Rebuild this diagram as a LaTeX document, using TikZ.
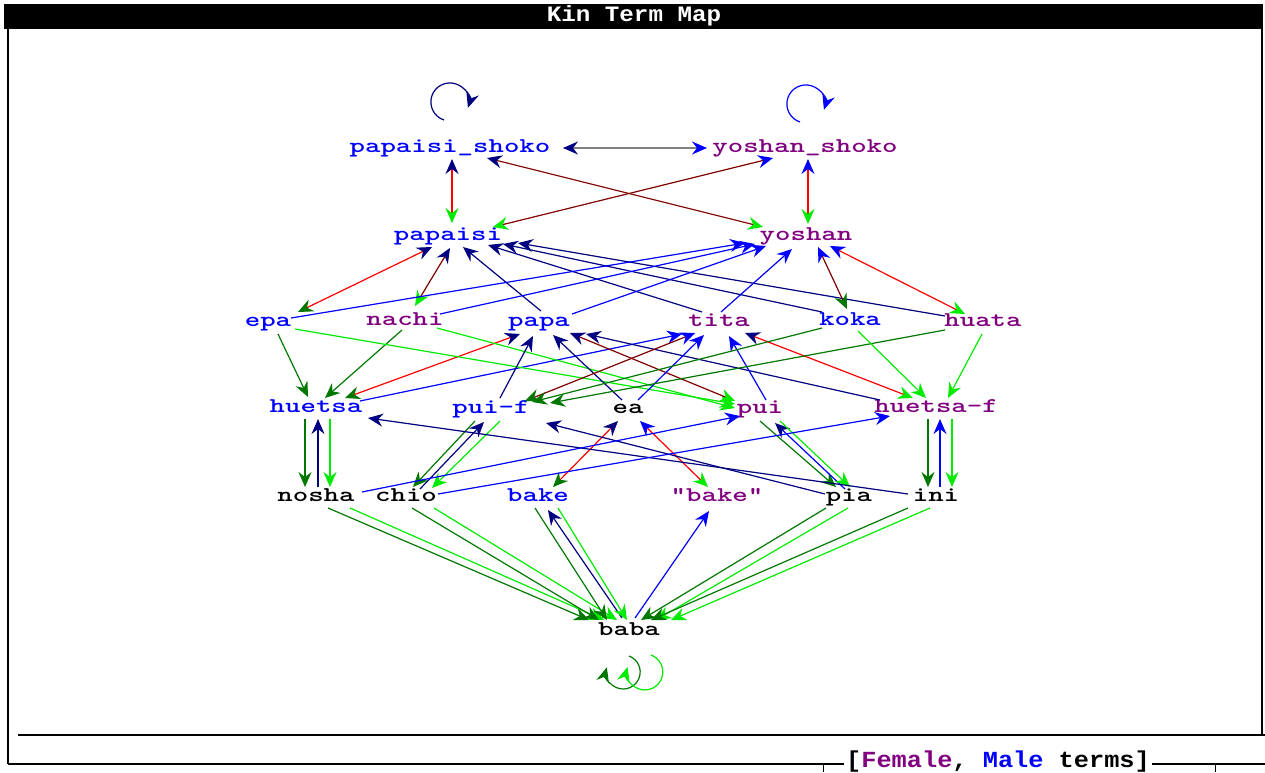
\documentclass[tikz,border=0pt]{standalone}
\usepackage{fontspec}
\newfontfamily\kinfont[FakeStretch=1.4]{lmmonolt10-bold.otf}
\newfontfamily\titlefont[FakeStretch=1.1]{Liberation Mono}
\usetikzlibrary{arrows.meta}
\definecolor{kblue}{RGB}{0,0,255}
\definecolor{kpurple}{RGB}{128,0,128}
\definecolor{knavy}{RGB}{0,0,128}
\definecolor{kmaroon}{RGB}{128,0,0}
\definecolor{kgreen}{RGB}{0,235,0}
\definecolor{kdkgreen}{RGB}{0,120,0}
\tikzset{
  kin/.style={font=\kinfont\fontsize{10.5}{11}\selectfont, inner sep=1.5pt,
    text height=6pt, text depth=1.5pt},
  male/.style={kin, text=kblue},
  female/.style={kin, text=kpurple},
  neutral/.style={kin, text=black},
  link/.style={line width=0.6pt},
  onehead/.style={arrows={-Stealth[length=7.5pt,width=6.5pt,inset=2.5pt,color=#1]}},
  twoheads/.style 2 args={arrows={Stealth[length=7.5pt,width=6.5pt,inset=2.5pt,color=#1]-Stealth[length=7.5pt,width=6.5pt,inset=2.5pt,color=#2]}}
}
\begin{document}
\begin{tikzpicture}[x=0.5pt, y=-0.5pt]
	\useasboundingbox (0,0) rectangle (1265,772);

	% window frame
	\fill[black] (4,4) rectangle (1263,29);
	\node[font=\titlefont\bfseries\fontsize{11}{12}\selectfont, text=white] (title) at (634,16) {Kin Term Map};
	\draw[line width=0.8pt] (8,29) -- (8,764);
	\draw[line width=0.8pt] (1262,29) -- (1262,735);
	\draw[line width=1.4pt] (18,735) -- (1265,735);
	\node[font=\titlefont\bfseries\fontsize{11.5}{12}\selectfont, inner sep=1pt] (legend) at (998,762)
		{[{\color{kpurple}Female}, {\color{kblue}Male} terms]};
	\draw[line width=0.8pt] (8,764) -- (legend.west |- 0,764);
	\draw[line width=0.8pt] (legend.east |- 0,764) -- (1265,764);
	\draw (823,764) -- (823,772);
	\draw (1215,764) -- (1215,772);

	% kin terms
	\node[male] (ps) at (450,148) {papaisi\_shoko};
	\node[female] (ys) at (805,148) {yoshan\_shoko};
	\node[male] (pap) at (448,236) {papaisi};
	\node[female] (yos) at (806,236) {yoshan};
	\node[male] (epa) at (268,322) {epa};
	\node[female] (nachi) at (405,321) {nachi};
	\node[male] (papa) at (539,322) {papa};
	\node[female] (tita) at (719,322) {tita};
	\node[male] (koka) at (850,321) {koka};
	\node[female] (huata) at (983,322) {huata};
	\node[male] (huetsa) at (316,408) {huetsa};
	\node[male] (puif) at (491,409) {pui-f};
	\node[neutral] (ea) at (628,409) {ea};
	\node[female] (pui) at (760,409) {pui};
	\node[female] (huetsaf) at (936,408) {huetsa-f};
	\node[neutral] (nosha) at (316,497) {nosha};
	\node[neutral] (chio) at (406,497) {chio};
	\node[male] (bake) at (538,497) {bake};
	\node[female] (bakef) at (717,497) {"bake"};
	\node[neutral] (pia) at (849,497) {pia};
	\node[neutral] (ini) at (936,497) {ini};
	\node[neutral] (baba) at (629,631) {baba};

	% self links
	\draw[link, knavy, onehead=knavy] ([shift={(-6,-28)}]ps.center) arc[start angle=108, end angle=378, radius=19];
	\draw[link, kblue, onehead=kblue] ([shift={(-5,-26)}]ys.center) arc[start angle=108, end angle=378, radius=19];
	\draw[link, kdkgreen, onehead=kdkgreen] ([shift={(0,25)}]baba.center) arc[start angle=-70, end angle=196, radius=17];
	\draw[link, kgreen, onehead=kgreen] ([shift={(22,24)}]baba.center) arc[start angle=-70, end angle=196, radius=18];

	% top rows
	\draw[link, gray, twoheads={knavy}{kblue}] ([shift={(113,0)}]ps.center) -- ([shift={(-98,0)}]ys.center);
	\draw[link, red, twoheads={knavy}{kgreen}] ([shift={(2,11)}]ps.center) -- ([shift={(4,-13)}]pap.center);
	\draw[link, red, twoheads={kblue}{kgreen}] ([shift={(3,11)}]ys.center) -- ([shift={(2,-12)}]yos.center);
	\draw[link, kmaroon, twoheads={kblue}{kgreen}] ([shift={(-32,10)}]ys.center) -- ([shift={(45,-9)}]pap.center);
	\draw[link, kmaroon, twoheads={knavy}{kgreen}] ([shift={(37,10)}]ps.center) -- ([shift={(-43,-9)}]yos.center);

	% papaisi and yoshan to their children
	\draw[link, red, twoheads={knavy}{kdkgreen}] ([shift={(-16,11)}]pap.center) -- ([shift={(30,-10)}]epa.center);
	\draw[link, kmaroon, twoheads={knavy}{kgreen}] ([shift={(2,12)}]pap.center) -- ([shift={(10,-15)}]nachi.center);
	\draw[link, knavy, onehead=knavy] ([shift={(2,-11)}]papa.center) -- ([shift={(15,11)}]pap.center);
	\draw[link, knavy, onehead=knavy] ([shift={(-17,-10)}]tita.center) -- ([shift={(40,9)}]pap.center);
	\draw[link, knavy, onehead=knavy] ([shift={(-28,-9)}]koka.center) -- ([shift={(55,8)}]pap.center);
	\draw[link, knavy, onehead=knavy] ([shift={(-38,-6)}]huata.center) -- ([shift={(70,7)}]pap.center);
	\draw[link, kblue, onehead=kblue] ([shift={(23,-4)}]epa.center) -- ([shift={(-61,7)}]yos.center);
	\draw[link, kblue, onehead=kblue] ([shift={(35,-7)}]nachi.center) -- ([shift={(-51,8)}]yos.center);
	\draw[link, kblue, onehead=kblue] ([shift={(33,-8)}]papa.center) -- ([shift={(-40,10)}]yos.center);
	\draw[link, kblue, onehead=kblue] ([shift={(2,-10)}]tita.center) -- ([shift={(-14,13)}]yos.center);
	\draw[link, kmaroon, twoheads={kblue}{kdkgreen}] ([shift={(12,11)}]yos.center) -- ([shift={(-3,-12)}]koka.center);
	\draw[link, red, twoheads={kblue}{kgreen}] ([shift={(24,10)}]yos.center) -- ([shift={(-18,-8)}]huata.center);

	% parents to siblings
	\draw[link, kdkgreen, onehead=kdkgreen] ([shift={(10,12)}]epa.center) -- ([shift={(-8,-11)}]huetsa.center);
	\draw[link, kdkgreen, onehead=kdkgreen] ([shift={(-3,9)}]nachi.center) -- ([shift={(9,-10)}]huetsa.center);
	\draw[link, red, twoheads={kdkgreen}{knavy}] ([shift={(29,-10)}]huetsa.center) -- ([shift={(-19,12)}]papa.center);
	\draw[link, kblue, onehead=kblue] ([shift={(44,-7)}]huetsa.center) -- ([shift={(-37,12)}]tita.center);
	\draw[link, kgreen, onehead=kgreen] ([shift={(27,7)}]epa.center) -- ([shift={(-25,-5)}]pui.center);
	\draw[link, kgreen, onehead=kgreen] ([shift={(32,7)}]nachi.center) -- ([shift={(-25,-1)}]pui.center);
	\draw[link, knavy, onehead=knavy] ([shift={(9,-11)}]puif.center) -- ([shift={(-6,14)}]papa.center);
	\draw[link, knavy, onehead=knavy] ([shift={(-6,-9)}]ea.center) -- ([shift={(14,13)}]papa.center);
	\draw[link, kmaroon, twoheads={knavy}{kgreen}] ([shift={(31,11)}]papa.center) -- ([shift={(-25,-8)}]pui.center);
	\draw[link, knavy, onehead=knavy] ([shift={(-56,-8)}]huetsaf.center) -- ([shift={(47,12)}]papa.center);
	\draw[link, kmaroon, twoheads={kblue}{kdkgreen}] ([shift={(-24,11)}]tita.center) -- ([shift={(34,-8)}]puif.center);
	\draw[link, kblue, onehead=kblue] ([shift={(10,-9)}]ea.center) -- ([shift={(-15,13)}]tita.center);
	\draw[link, kblue, onehead=kblue] ([shift={(6,-9)}]pui.center) -- ([shift={(10,14)}]tita.center);
	\draw[link, red, twoheads={knavy}{kgreen}] ([shift={(26,11)}]tita.center) -- ([shift={(-23,-10)}]huetsaf.center);
	\draw[link, kdkgreen, onehead=kdkgreen] ([shift={(-28,7)}]koka.center) -- ([shift={(41,-7)}]puif.center);
	\draw[link, kdkgreen, onehead=kdkgreen] ([shift={(-38,8)}]huata.center) -- ([shift={(59,-6)}]puif.center);
	\draw[link, kgreen, onehead=kgreen] ([shift={(8,10)}]koka.center) -- ([shift={(-10,-10)}]huetsaf.center);
	\draw[link, kgreen, onehead=kgreen] ([shift={(-1,12)}]huata.center) -- ([shift={(12,-10)}]huetsaf.center);

	% siblings to children
	\draw[link, kdkgreen, onehead=kdkgreen] ([shift={(-11,11)}]huetsa.center) -- ([shift={(-11,-10)}]nosha.center);
	\draw[link, knavy, onehead=knavy] ([shift={(2,-10)}]nosha.center) -- ([shift={(2,11)}]huetsa.center);
	\draw[link, kgreen, onehead=kgreen] ([shift={(14,11)}]huetsa.center) -- ([shift={(14,-10)}]nosha.center);
	\draw[link, kdkgreen, onehead=kdkgreen] ([shift={(-8,11)}]huetsaf.center) -- ([shift={(-8,-10)}]ini.center);
	\draw[link, kblue, onehead=kblue] ([shift={(4,-10)}]ini.center) -- ([shift={(4,11)}]huetsaf.center);
	\draw[link, kgreen, onehead=kgreen] ([shift={(16,11)}]huetsaf.center) -- ([shift={(16,-10)}]ini.center);
	\draw[link, kdkgreen, onehead=kdkgreen] ([shift={(-16,12)}]puif.center) -- ([shift={(7,-10)}]chio.center);
	\draw[link, knavy, onehead=knavy] ([shift={(14,-8)}]chio.center) -- ([shift={(-7,13)}]puif.center);
	\draw[link, kgreen, onehead=kgreen] ([shift={(9,12)}]puif.center) -- ([shift={(26,-9)}]chio.center);
	\draw[link, kdkgreen, onehead=kdkgreen] ([shift={(0,12)}]pui.center) -- ([shift={(-13,-10)}]pia.center);
	\draw[link, kblue, onehead=knavy] ([shift={(-4,-8)}]pia.center) -- ([shift={(15,14)}]pui.center);
	\draw[link, kgreen, onehead=kgreen] ([shift={(20,12)}]pui.center) -- ([shift={(1,-10)}]pia.center);
	\draw[link, red, twoheads={knavy}{kdkgreen}] ([shift={(-10,12)}]ea.center) -- ([shift={(15,-10)}]bake.center);
	\draw[link, red, twoheads={kblue}{kgreen}] ([shift={(12,12)}]ea.center) -- ([shift={(-9,-10)}]bakef.center);
	\draw[link, knavy, onehead=knavy] ([shift={(-28,-3)}]ini.center) -- ([shift={(52,10)}]huetsa.center);
	\draw[link, knavy, onehead=knavy] ([shift={(-24,-3)}]pia.center) -- ([shift={(55,14)}]puif.center);
	\draw[link, kblue, onehead=kblue] ([shift={(46,-5)}]nosha.center) -- ([shift={(-20,7)}]pui.center);
	\draw[link, kblue, onehead=kblue] ([shift={(32,-3)}]chio.center) -- ([shift={(-46,8)}]huetsaf.center);

	% children to baba
	\draw[link, kdkgreen, onehead=kdkgreen] ([shift={(12,11)}]nosha.center) -- ([shift={(-40,-11)}]baba.center);
	\draw[link, kgreen, onehead=kgreen] ([shift={(34,11)}]nosha.center) -- ([shift={(-25,-11)}]baba.center);
	\draw[link, kdkgreen, onehead=kdkgreen] ([shift={(6,11)}]chio.center) -- ([shift={(-30,-11)}]baba.center);
	\draw[link, kgreen, onehead=kgreen] ([shift={(28,11)}]chio.center) -- ([shift={(-12,-11)}]baba.center);
	\draw[link, kdkgreen, onehead=kdkgreen] ([shift={(-3,11)}]bake.center) -- ([shift={(-22,-11)}]baba.center);
	\draw[link, knavy, onehead=knavy] ([shift={(-7,-13)}]baba.center) -- ([shift={(10,13)}]bake.center);
	\draw[link, kgreen, onehead=kgreen] ([shift={(20,11)}]bake.center) -- ([shift={(-2,-11)}]baba.center);
	\draw[link, kblue, onehead=kblue] ([shift={(6,-13)}]baba.center) -- ([shift={(-8,14)}]bakef.center);
	\draw[link, kdkgreen, onehead=kdkgreen] ([shift={(-23,11)}]pia.center) -- ([shift={(12,-11)}]baba.center);
	\draw[link, kgreen, onehead=kgreen] ([shift={(-1,11)}]pia.center) -- ([shift={(27,-11)}]baba.center);
	\draw[link, kdkgreen, onehead=kdkgreen] ([shift={(-28,11)}]ini.center) -- ([shift={(22,-11)}]baba.center);
	\draw[link, kgreen, onehead=kgreen] ([shift={(-6,11)}]ini.center) -- ([shift={(42,-11)}]baba.center);
\end{tikzpicture}
\end{document}
